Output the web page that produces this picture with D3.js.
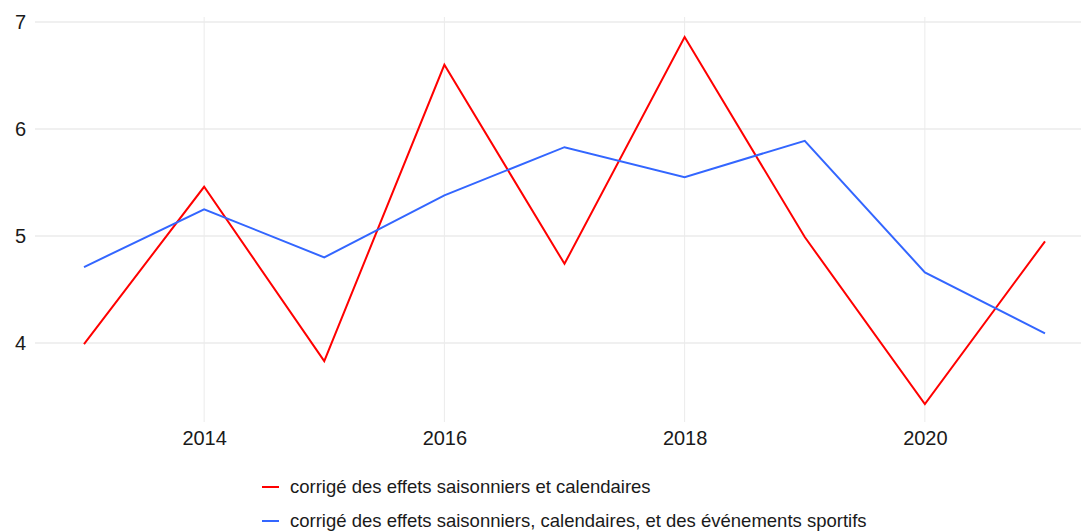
<!DOCTYPE html>
<html>
<head>
<meta charset="utf-8">
<script src="https://cdn.jsdelivr.net/npm/d3@7"></script>
<style>
  body { margin: 0; background: #fff; }
  text { font-family: "Liberation Sans", Arial, sans-serif; }
</style>
</head>
<body>
<svg id="chart" width="1081" height="532"></svg>
<script>
// data
var years = [2013, 2014, 2015, 2016, 2017, 2018, 2019, 2020, 2021];
var seasonal = [3.99, 5.46, 3.83, 6.60, 4.74, 6.86, 4.99, 3.43, 4.95];
var sports = [4.71, 5.25, 4.80, 5.38, 5.83, 5.55, 5.89, 4.66, 4.09];
var xTicks = [2014, 2016, 2018, 2020];
var yTicks = [4, 5, 6, 7];
var seriesNames = [
  "corrigé des effets saisonniers et calendaires",
  "corrigé des effets saisonniers, calendaires, et des événements sportifs"
];
var seriesColors = ["#ff0000", "#3366ff"];

var svg = d3.select("#chart");

var panel = { left: 35, right: 1081, top: 17, bottom: 422 };

// x: 2013 -> 84, 2021 -> 1045
var xScale = d3.scaleLinear().domain([2013, 2021]).range([84, 1045]);
// y: 7 -> 22, 4 -> 343
var yScale = d3.scaleLinear().domain([4, 7]).range([343, 22]);

// grid
svg.append("g").selectAll("line.h")
  .data(yTicks)
  .enter().append("line")
  .attr("x1", panel.left).attr("x2", panel.right)
  .attr("y1", function (d) { return yScale(d); })
  .attr("y2", function (d) { return yScale(d); })
  .attr("stroke", "#ebebeb").attr("stroke-width", 1.5);

svg.append("g").selectAll("line.v")
  .data(xTicks)
  .enter().append("line")
  .attr("y1", panel.top).attr("y2", panel.bottom)
  .attr("x1", function (d) { return xScale(d); })
  .attr("x2", function (d) { return xScale(d); })
  .attr("stroke", "#ebebeb").attr("stroke-width", 1);

// axes (labels only)
var yAxis = svg.append("g")
  .attr("transform", "translate(" + panel.left + ",0)")
  .call(d3.axisLeft(yScale).tickValues(yTicks).tickSize(0).tickPadding(9).tickFormat(d3.format("d")));
yAxis.select(".domain").remove();
yAxis.attr("font-size", null).attr("font-family", null);
yAxis.selectAll("text").style("font-size", "20px").attr("fill", "#1a1a1a");

var xAxis = svg.append("g")
  .attr("transform", "translate(0," + panel.bottom + ")")
  .call(d3.axisBottom(xScale).tickValues(xTicks).tickSize(0).tickPadding(9).tickFormat(d3.format("d")));
xAxis.select(".domain").remove();
xAxis.attr("font-size", null).attr("font-family", null);
xAxis.selectAll("text").style("font-size", "20px").attr("fill", "#1a1a1a");

// lines
var line = d3.line()
  .x(function (d) { return xScale(d.year); })
  .y(function (d) { return yScale(d.value); });

[seasonal, sports].forEach(function (vals, i) {
  var data = years.map(function (y, j) { return { year: y, value: vals[j] }; });
  svg.append("path")
    .datum(data)
    .attr("fill", "none")
    .attr("stroke", seriesColors[i])
    .attr("stroke-width", 2)
    .attr("d", line);
});

// legend
var legend = svg.append("g").attr("transform", "translate(262,487)");
seriesNames.forEach(function (name, i) {
  var g = legend.append("g").attr("transform", "translate(0," + (i * 34) + ")");
  g.append("line")
    .attr("x1", 0).attr("x2", 17)
    .attr("stroke", seriesColors[i]).attr("stroke-width", 2);
  g.append("text")
    .attr("x", 28).attr("y", 0)
    .attr("dy", "0.35em")
    .style("font-size", "18.5px")
    .attr("fill", "#1a1a1a")
    .text(name);
});
</script>
</body>
</html>
